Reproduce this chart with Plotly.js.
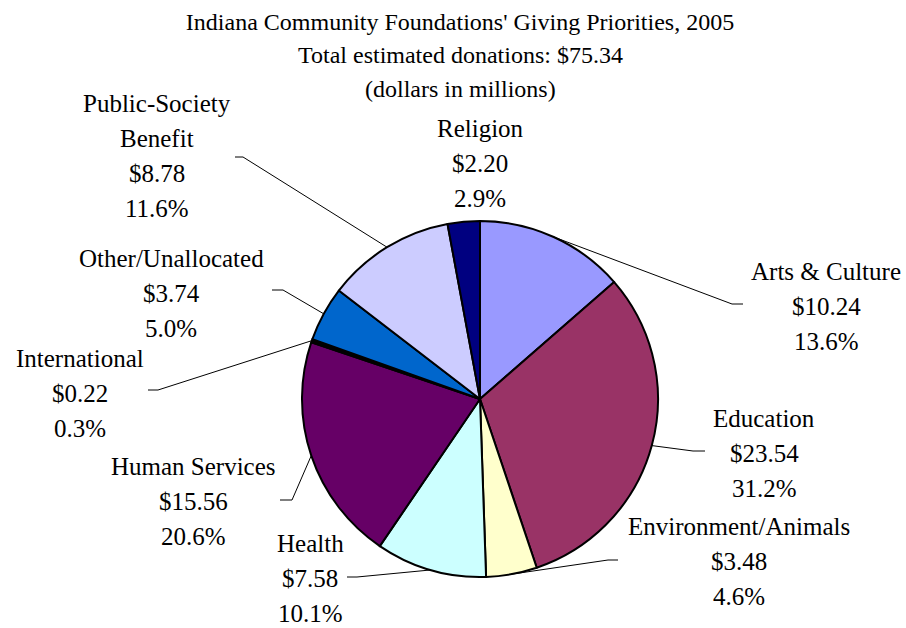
<!DOCTYPE html>
<html>
<head>
<meta charset="utf-8">
<script src="https://cdn.plot.ly/plotly-3.0.1.min.js"></script>
<style>html,body{margin:0;padding:0;background:#fff;}#chart{width:906px;height:628px;}</style>
</head>
<body>
<div id="chart"></div>
<script>
// ---- data ----
const categories = ['Arts & Culture', 'Education', 'Environment/Animals', 'Health', 'Human Services',
  'International', 'Other/Unallocated', 'Public-Society<br>Benefit', 'Religion'];
const values = [10.24, 23.54, 3.48, 7.58, 15.56, 0.22, 3.74, 8.78, 2.20];
const percents = [13.6, 31.2, 4.6, 10.1, 20.6, 0.3, 5.0, 11.6, 2.9];
const sliceColors = ['#9999FF', '#993366', '#FFFFCC', '#CCFFFF', '#660066', '#000000', '#0066CC', '#CCCCFF', '#000080'];
const titleLines = ["Indiana Community Foundations' Giving Priorities, 2005",
  'Total estimated donations: $75.34', '(dollars in millions)'];

// ---- layout config (label placement, pixels) ----
const W = 906, H = 628;
const pieCx = 480, pieCy = 399, pieR = 178;
const labelCx = [826, 764, 739, 310, 193, 80, 171, 157, 480];
const labelY0 = [280, 427, 535, 552, 475, 367, 267, 112, 137];
const elbows = [[732, 304], [693, 451], [608, 560], [357, 577], [292, 500], [158, 390], [283, 290], [243, 157], null];
const ends = [[743, 304], [705, 451], [618, 560], [347, 577], [280, 500], [148, 390], [272, 290], [235, 157], null];
const lineGap = 35, labelSize = 25, titleSize = 24;
const titleBase = [30, 63, 97];
const FONT = '"Liberation Serif", "Times New Roman", "DejaVu Serif", serif';

const PX = x => x / W;
const PY = y => 1 - y / H;

const total = values.reduce((a, b) => a + b, 0);
const annotations = [];
const shapes = [];
let cum = 0;
values.forEach((v, i) => {
  const mid = (cum + v / 2) / total * 360;
  cum += v;
  const lines = categories[i].split('<br>').concat(['$' + v.toFixed(2), percents[i].toFixed(1) + '%']);
  lines.forEach((t, k) => {
    const base = labelY0[i] + k * lineGap;
    annotations.push({
      x: PX(labelCx[i]), y: PY(base - 0.3375 * labelSize), xref: 'paper', yref: 'paper',
      text: t, showarrow: false, xanchor: 'center', yanchor: 'middle',
      font: {family: FONT, size: labelSize, color: '#000'}
    });
  });
  if (elbows[i]) {
    const a = mid * Math.PI / 180;
    const sx = pieCx + pieR * Math.sin(a), sy = pieCy - pieR * Math.cos(a);
    shapes.push({
      type: 'path', xref: 'paper', yref: 'paper',
      path: 'M' + PX(sx) + ',' + PY(sy) + ' L' + PX(elbows[i][0]) + ',' + PY(elbows[i][1]) +
        ' L' + PX(ends[i][0]) + ',' + PY(ends[i][1]),
      line: {color: '#000', width: 1}
    });
  }
});
// title lines 2 and 3 as annotations (line 1 is layout.title)
for (let k = 1; k < titleLines.length; k++) {
  annotations.push({
    x: PX(460), y: PY(titleBase[k] - 0.3375 * titleSize), xref: 'paper', yref: 'paper',
    text: titleLines[k], showarrow: false, xanchor: 'center', yanchor: 'middle',
    font: {family: FONT, size: titleSize, color: '#000'}
  });
}

const trace = {
  type: 'pie',
  labels: categories,
  values: values,
  sort: false,
  direction: 'clockwise',
  rotation: 0,
  textinfo: 'none',
  hoverinfo: 'label+value+percent',
  marker: {colors: sliceColors, line: {color: '#000', width: 2}},
  domain: {x: [PX(pieCx - pieR), PX(pieCx + pieR)], y: [PY(pieCy + pieR), PY(pieCy - pieR)]},
  showlegend: false
};

const layout = {
  width: W, height: H,
  margin: {l: 0, r: 0, t: 0, b: 0, pad: 0},
  paper_bgcolor: '#fff', plot_bgcolor: '#fff',
  font: {family: FONT},
  title: {
    text: titleLines[0],
    font: {family: FONT, size: titleSize, color: '#000'},
    x: 460 / W, xanchor: 'center', xref: 'container',
    y: PY(titleBase[0] - 0.3375 * titleSize), yanchor: 'middle', yref: 'container',
    pad: {t: 0, b: 0, l: 0, r: 0}
  },
  showlegend: false,
  annotations: annotations,
  shapes: shapes
};

Plotly.newPlot('chart', [trace], layout, {displayModeBar: false, staticPlot: true});
</script>
</body>
</html>
